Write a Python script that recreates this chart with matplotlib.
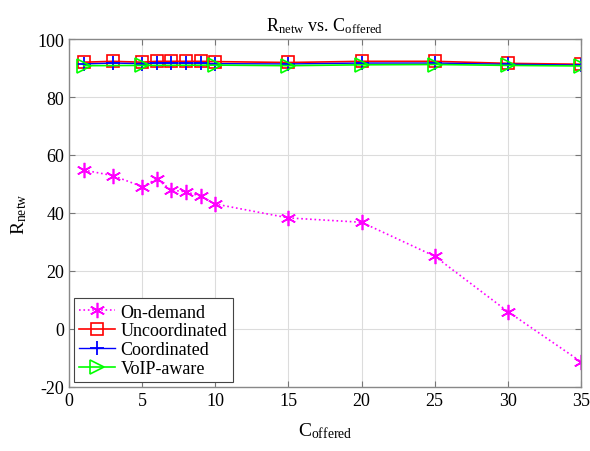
import matplotlib
matplotlib.use("Agg")
import matplotlib.pyplot as plt

plt.rcParams['font.family'] = ['Liberation Serif', 'DejaVu Serif']
plt.rcParams['mathtext.fontset'] = 'custom'
plt.rcParams['mathtext.rm'] = 'Liberation Serif'
plt.rcParams['mathtext.it'] = 'Liberation Serif:italic'
plt.rcParams['axes.unicode_minus'] = False

x_all = [1, 3, 5, 6, 7, 8, 9, 10, 15, 20, 25, 30, 35]
on_demand = [54.8, 52.9, 49.1, 51.7, 47.9, 47.3, 45.8, 43.1, 38.3, 36.8, 25.1, 6.0, -11.3]
uncoordinated = [92.0, 92.3, 92.0, 92.3, 92.3, 92.3, 92.3, 92.2, 91.9, 92.3, 92.3, 91.6, 91.3]
coordinated = [91.4, 91.7, 91.5, 91.7, 91.7, 91.7, 91.7, 91.5, 91.4, 91.7, 91.7, 91.3, 91.0]
x_voip = [1, 5, 10, 15, 20, 25, 30, 35]
voip_aware = [90.8, 90.9, 91.0, 90.8, 91.1, 91.2, 90.9, 90.7]

xticks = [0, 5, 10, 15, 20, 25, 30, 35]
yticks = [-20, 0, 20, 40, 60, 80, 100]

fig = plt.figure(figsize=(5.9, 4.52), dpi=100)
ax = fig.add_axes([69/590, 1-388/452, (581-69)/590, (388-40)/452])

ax.plot(x_all, on_demand, color='#ff00ff', linestyle=':', linewidth=1.2,
        marker=(6, 2, 0), markersize=11, markeredgewidth=1.2, label='On-demand')
ax.plot(x_all, uncoordinated, color='#ff0000', linestyle='-', linewidth=1.2,
        marker='s', markersize=8.5, markerfacecolor='none', markeredgewidth=1.2,
        label='Uncoordinated')
ax.plot(x_all, coordinated, color='#0000ff', linestyle='-', linewidth=1.0,
        marker='+', markersize=10, markeredgewidth=1.3, label='Coordinated')
ax.plot(x_voip, voip_aware, color='#00ff00', linestyle='-', linewidth=1.2,
        marker='>', markersize=10, markerfacecolor='none', markeredgewidth=1.2,
        label='VoIP-aware')

ax.set_xlim(0, 35)
ax.set_ylim(-20, 100)
ax.set_xticks(xticks)
ax.set_yticks(yticks)
ax.grid(True, color='#dcdcdc', linewidth=0.8)
ax.set_axisbelow(True)
ax.tick_params(direction='in', top=True, right=True, labelsize=13,
               color='#777777', length=4)
for s in ax.spines.values():
    s.set_color('#888888')
    s.set_linewidth(1.0)

ax.set_title(r'$\mathrm{R_{netw}}$ vs. $\mathrm{C_{offered}}$', fontsize=13, pad=6)
ax.set_xlabel(r'$\mathrm{C_{offered}}$', fontsize=14, labelpad=8)
ax.set_ylabel(r'$\mathrm{R_{netw}}$', fontsize=14, labelpad=6)

leg = ax.legend(loc='lower left', fontsize=13, frameon=True, fancybox=False,
                edgecolor='#444444', framealpha=1, borderpad=0.3,
                labelspacing=0.1, handlelength=2.0, handletextpad=0.3,
                borderaxespad=0.25)
leg.get_frame().set_linewidth(0.8)

fig.savefig('out.png', dpi=100)
